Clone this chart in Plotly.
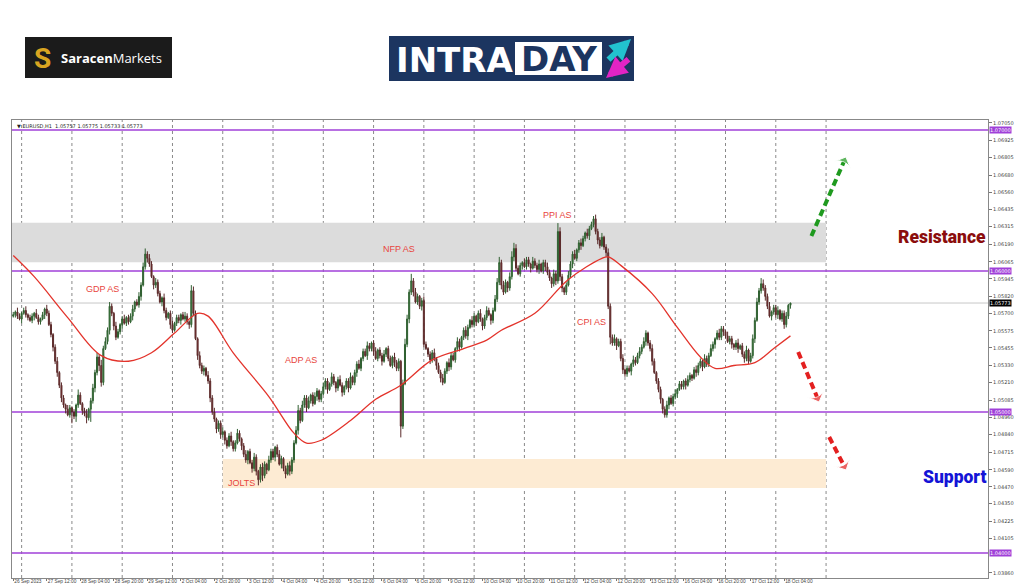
import plotly.graph_objects as go

# ---------------- data (EURUSD H1), prices in pips above 1.0000 ----------------
FIRST_OPEN = 568
CLOSE = [
    569, 571, 568, 566, 570, 572, 569, 567, 565, 568, 570, 567, 564, 566, 569, 573, 570,
    562, 555, 546,
    536, 528, 519, 510, 505,
    502, 498, 503, 500, 497, 505, 512, 506, 501, 499, 496, 502,
    508, 517, 528, 539, 533, 521, 545, 550, 558, 575, 570,
    561, 553, 557,
    562, 566, 563, 567, 564, 568,
    573, 578, 576, 582, 590,
    603, 612, 609, 605,
    596, 590, 592, 584, 578, 581, 572, 567, 570,
    562, 558, 563,
    567, 565, 569, 566, 568, 564, 562,
    586, 570,
    552, 540, 533, 529,
    531, 526, 522,
    510, 500, 495,
    488, 492, 484,
    486, 480, 476, 483, 479, 474, 478, 485, 481, 476,
    470, 466, 472, 464, 460, 468,
    458, 452, 461, 455, 463, 459,
    466, 472, 468, 475, 470, 463, 467,
    460, 456, 462, 458, 466,
    478, 487,
    501, 494, 505, 510, 503, 508, 512,
    506, 511, 515, 509, 513, 518, 522, 516, 520, 525,
    521, 517, 523, 519, 514, 518, 522,
    517, 525, 521, 528, 534,
    531, 538, 543, 540, 547, 545,
    549, 543, 538, 544, 540, 536, 541, 545,
    538, 533, 539, 535, 531, 536,
    490, 520, 548, 566, 585, 593,
    585, 578, 582, 575, 579,
    548, 545, 541, 537, 542, 538, 533, 528, 524, 521, 529, 535, 532,
    540, 537, 545, 550, 546, 553, 558, 554, 560, 565, 562,
    568, 564, 570, 566, 561, 567, 572, 569, 565,
    572, 580, 592,
    606, 590, 585, 592, 588, 596,
    610, 616, 602,
    598, 604,
    606, 603, 608, 605, 602, 607, 604,
    601, 605, 600, 606, 603, 599,
    595, 591, 598, 593,
    628, 596, 588, 585,
    590, 597, 605, 612, 609, 615, 620, 618, 623, 627, 625, 630, 633, 637,
    628, 622, 618, 624, 617, 613,
    575, 553,
    549, 552, 547, 550,
    538, 530, 527,
    531, 529, 534, 537, 535, 540, 543, 546,
    550, 556, 549, 545,
    536, 528, 522, 516, 509,
    502, 498, 505,
    510, 506, 511, 513,
    516, 520, 518, 522, 519, 523,
    526, 524, 530, 528, 533, 536,
    532, 538, 534, 540, 545,
    548, 552, 556, 553, 559, 557,
    554, 550, 552, 548, 546, 549, 545, 547,
    541, 538, 544, 536, 540,
    552,
    565, 578, 586, 591,
    588, 582,
    575, 568, 571,
    574, 569, 572, 566, 570,
    562,
    568, 575.7, 577.3,
]
WICK_UP = [
    2,1,3,2,1,2,3,1,2,2,1,3,2,1,2,1,3,2,2,1,
    2,3,1,2,2,1,3,2,1,2,1,4,2,1,2,3,1,2,3,2,
    3,2,4,2,3,2,3,2,1,3,2,1,2,3,1,2,2,3,1,2,
    3,2,3,4,2,3,2,1,3,2,2,1,3,2,1,2,3,1,2,2,
    1,2,3,2,1,4,3,2,1,3,2,2,1,3,2,2,3,1,2,2,
    3,1,2,2,3,1,2,3,2,1,2,3,1,2,2,3,2,1,2,3,
    2,1,3,2,2,1,2,3,2,1,2,2,3,2,2,3,4,2,3,2,
    2,3,1,2,3,2,1,2,3,2,2,1,3,2,1,2,3,2,1,2,
    2,3,1,2,2,3,1,2,2,3,2,1,2,3,1,2,2,3,1,2,
    2,1,3,2,2,1,3,4,3,2,5,2,3,2,1,2,3,2,1,2,
    2,3,1,2,2,3,2,1,3,2,2,1,3,2,1,2,3,2,1,3,
    2,1,2,3,1,2,3,2,1,2,3,3,4,2,3,2,1,3,4,4,
    3,2,2,1,3,2,2,1,3,2,2,3,1,2,2,3,2,1,3,2,
    6,3,2,1,2,3,2,2,3,1,2,3,2,1,3,2,2,2,3,2,
    2,3,1,2,3,2,2,3,1,2,2,3,1,2,2,1,3,2,2,3,
    2,3,2,1,2,3,2,1,2,2,1,2,3,1,2,2,3,1,2,2,
    1,2,3,2,1,2,3,2,2,1,3,2,2,3,2,1,2,3,2,2,
    1,3,2,2,1,2,3,1,2,2,3,1,2,3,2,3,2,4,3,2,
    2,3,1,2,2,3,1,2,2,3,1,0.2,
]
WICK_DN = [
    1,2,2,1,3,1,2,2,1,2,3,1,2,2,1,3,2,1,2,3,
    2,3,2,3,2,3,1,2,8,2,4,2,1,3,2,4,2,9,2,3,
    2,4,3,2,1,2,3,2,3,2,1,2,3,1,2,2,1,3,2,1,
    2,3,1,2,3,2,1,3,2,2,1,3,2,2,1,3,2,1,2,2,
    3,1,2,2,3,2,2,1,3,2,2,3,1,2,3,2,2,3,2,3,
    2,3,2,1,3,2,2,1,2,3,2,2,3,1,3,2,3,4,2,4,
    2,3,1,2,2,3,2,1,3,2,3,1,3,2,2,1,3,2,1,2,
    3,1,2,2,1,3,2,2,1,2,3,1,2,2,3,2,1,3,2,2,
    3,1,2,2,3,1,2,2,1,3,2,2,3,1,2,2,3,1,2,2,
    1,2,3,2,2,8,2,1,2,3,2,3,1,2,2,3,2,1,2,3,
    2,2,3,1,3,2,1,2,3,2,1,2,2,3,1,2,2,3,1,2,
    2,3,1,2,3,2,2,1,3,2,1,2,2,3,2,1,3,2,2,3,
    2,1,2,3,1,2,2,3,1,2,2,3,1,2,3,2,2,3,2,3,
    2,3,3,2,2,1,2,3,1,2,2,3,1,2,2,3,1,2,2,3,
    2,1,2,3,2,5,2,2,3,1,2,3,2,2,1,3,2,2,1,2,
    2,1,3,2,2,3,1,2,2,3,3,2,2,3,1,2,2,3,1,2,
    2,3,1,2,2,1,3,2,2,3,1,2,2,1,2,3,1,2,2,3,
    2,1,2,3,2,2,3,1,2,3,2,2,1,2,3,1,2,2,2,3,
    2,1,3,2,2,3,1,2,3,2,2,2.4,
]

# moving average (red line), bar index -> pips
MA_BAR = [0, 10, 26, 42, 55, 66, 77, 88, 93, 105, 122, 134, 140, 147, 161, 173, 185,
          200, 215, 226, 233, 249, 265, 281, 284, 290, 305, 317, 328, 335, 344, 354, 363, 371]
MA_PIPS = [611, 596, 567, 540, 536, 542, 556, 570, 568, 542, 511, 485, 478, 480, 494, 509, 519,
           537, 545, 551, 558, 570, 594, 609, 610, 604, 584, 560, 539, 531, 533, 535, 545, 554]

X_TICK_STEP = 16
X_TICK_LABELS = ["26 Sep 2023", "27 Sep 12:00", "28 Sep 04:00", "28 Sep 20:00", "29 Sep 12:00",
                 "2 Oct 04:00", "2 Oct 20:00", "3 Oct 12:00", "4 Oct 04:00", "4 Oct 20:00",
                 "5 Oct 12:00", "6 Oct 04:00", "6 Oct 20:00", "9 Oct 12:00", "10 Oct 04:00",
                 "10 Oct 20:00", "11 Oct 12:00", "12 Oct 04:00", "12 Oct 20:00", "13 Oct 12:00",
                 "16 Oct 04:00", "16 Oct 20:00", "17 Oct 12:00", "18 Oct 04:00"]
DAY_GRID_START, DAY_GRID_STEP, DAY_GRID_END = 4, 24, 388

Y_TICKS = [1.07050, 1.06925, 1.06805, 1.06680, 1.06560, 1.06435, 1.06315, 1.06190, 1.06065,
           1.05945, 1.05820, 1.05700, 1.05575, 1.05455, 1.05330, 1.05210, 1.05085, 1.04960,
           1.04840, 1.04715, 1.04590, 1.04470, 1.04350, 1.04225, 1.04105, 1.03860]
LEVELS = [1.07000, 1.06000, 1.05000, 1.04000]
LAST_PRICE = 1.05773
RES_ZONE = (1.06062, 1.06343)
SUP_ZONE = (1.04461, 1.04667)
SUP_ZONE_START = 100
ZONE_END = 388

EVENTS = [("GDP AS", 42.5, 1.0587), ("NFP AS", 184, 1.06156), ("PPI AS", 260, 1.0640),
          ("ADP AS", 137.5, 1.0537), ("CPI AS", 276, 1.0564), ("JOLTS", 109, 1.04496)]

# dashed scenario arrows: (colour, bar0, price0, bar1, price1)
ARROWS = [("#1f9a1f", 381, 1.06248, 397.5, 1.06809),
          ("#e32020", 374.7, 1.05426, 384.7, 1.05071),
          ("#e32020", 389.5, 1.04823, 397.6, 1.04589)]

# ---------------- build OHLC ----------------
assert len(CLOSE) == len(WICK_UP) == len(WICK_DN), (len(CLOSE), len(WICK_UP), len(WICK_DN))
N = len(CLOSE)
opens = [FIRST_OPEN] + CLOSE[:-1]
highs = [max(o, c) + w for o, c, w in zip(opens, CLOSE, WICK_UP)]
lows = [min(o, c) - w for o, c, w in zip(opens, CLOSE, WICK_DN)]
to_price = lambda v: 1 + v / 10000.0
bars = list(range(N))

fig = go.Figure()
fig.add_trace(go.Candlestick(
    x=bars,
    open=[to_price(v) for v in opens], high=[to_price(v) for v in highs],
    low=[to_price(v) for v in lows], close=[to_price(v) for v in CLOSE],
    increasing=dict(line=dict(color="#2f5f30", width=1), fillcolor="#3f8a40"),
    decreasing=dict(line=dict(color="#5a2a2a", width=1), fillcolor="#8a3030"),
    whiskerwidth=0, hoverinfo="skip"))
fig.add_trace(go.Scatter(x=MA_BAR, y=[to_price(v) for v in MA_PIPS], mode="lines",
                         line=dict(color="#e3332b", width=1.3, shape="spline"), hoverinfo="skip"))
for col, x0, y0, x1, y1 in ARROWS:
    fig.add_trace(go.Scatter(x=[x0, x1], y=[y0, y1], mode="lines+markers",
                             line=dict(color=col, width=4, dash="7px,4px"),
                             marker=dict(symbol="arrow-wide", size=[0, 13], color=col, angleref="previous"),
                             hoverinfo="skip"))

# ---------------- layout geometry (pixel helpers for decorations) ----------------
PL, PR, PT, PB = 12, 988, 120, 578
def pxx(x):
    return (x - PL) / (PR - PL)
def pxy(y):
    return (PB - y) / (PB - PT)

shapes = []
shapes.append(dict(type="rect", xref="x", yref="y", x0=-0.6, x1=ZONE_END, y0=RES_ZONE[0], y1=RES_ZONE[1],
                   fillcolor="#dcdcdc", line=dict(width=0), layer="below"))
shapes.append(dict(type="rect", xref="x", yref="y", x0=SUP_ZONE_START, x1=ZONE_END, y0=SUP_ZONE[0], y1=SUP_ZONE[1],
                   fillcolor="#fdebd3", line=dict(width=0), layer="below"))
for g in range(DAY_GRID_START, DAY_GRID_END + 1, DAY_GRID_STEP):
    shapes.append(dict(type="line", xref="x", yref="paper", x0=g, x1=g, y0=0, y1=1,
                       line=dict(color="#8a8a8a", width=1, dash="dot"), layer="below"))
shapes.append(dict(type="line", xref="paper", yref="y", x0=0, x1=1, y0=LAST_PRICE, y1=LAST_PRICE,
                   line=dict(color="#c8c8c8", width=1), layer="below"))
for lv in LEVELS:
    shapes.append(dict(type="line", xref="paper", yref="y", x0=0, x1=1, y0=lv, y1=lv,
                       line=dict(color="#a040d8", width=1.6), layer="below"))

# logos
shapes.append(dict(type="rect", xref="paper", yref="paper", x0=pxx(25), x1=pxx(172), y0=pxy(78), y1=pxy(37),
                   fillcolor="#1b1b1b", line=dict(width=0), layer="above"))
shapes.append(dict(type="rect", xref="paper", yref="paper", x0=pxx(389), x1=pxx(634), y0=pxy(81), y1=pxy(36),
                   fillcolor="#1c3560", line=dict(width=0), layer="above"))
shapes.append(dict(type="rect", xref="paper", yref="paper", x0=pxx(515), x1=pxx(602), y0=pxy(75), y1=pxy(42),
                   fillcolor="#ffffff", line=dict(width=0), layer="above"))

ann = []
def paper_text(text, x, y, size, color, family="Liberation Sans", weight="normal", xanchor="center"):
    ann.append(dict(text=text, xref="paper", yref="paper", x=pxx(x), y=pxy(y), showarrow=False,
                    xanchor=xanchor, yanchor="middle",
                    font=dict(size=size, color=color, family=family, weight=weight)))

paper_text("<b>S</b>", 42, 58, 28, "#d9a521", family="Roboto", xanchor="center")
paper_text("<b>Saracen</b>Markets", 111, 58, 13, "#ffffff", family="Open Sans")
paper_text("INTRA", 454, 60, 34, "#ffffff", family="DejaVu Sans", weight="bold")
paper_text("DAY", 559, 59, 34, "#1c3560", family="DejaVu Sans", weight="bold")
ann.append(dict(text="", xref="paper", yref="paper", x=pxx(631), y=pxy(39), ax=-24, ay=22,
                showarrow=True, arrowhead=2, arrowsize=0.7, arrowwidth=6, arrowcolor="#22c3cf"))
ann.append(dict(text="", xref="paper", yref="paper", x=pxx(606), y=pxy(78), ax=24, ay=-20,
                showarrow=True, arrowhead=2, arrowsize=0.7, arrowwidth=6, arrowcolor="#e224c4"))
paper_text("Resistance", 942, 237, 17.5, "#8b0d0d", family="Roboto", weight=900)
paper_text("Support", 954, 477, 17.5, "#1414d6", family="Roboto", weight=900)

ann.append(dict(text="▼ EURUSD,H1  1.05757 1.05775 1.05733 1.05773", xref="paper", yref="paper",
                x=0.003, y=0.998, xanchor="left", yanchor="top", showarrow=False,
                font=dict(size=5, color="#222", family="DejaVu Sans")))
for name, bx, py in EVENTS:
    ann.append(dict(text=name, xref="x", yref="y", x=bx, y=py, showarrow=False,
                    font=dict(size=9, color="#e8453c", family="Liberation Sans")))
for lv in LEVELS:
    ann.append(dict(text=f"{lv:.5f}", xref="paper", yref="y", x=1, y=lv, xanchor="left", xshift=1,
                    showarrow=False, bgcolor="#a040d8", borderpad=0,
                    font=dict(size=5, color="#ffffff", family="DejaVu Sans")))
ann.append(dict(text=f"{LAST_PRICE:.5f}", xref="paper", yref="y", x=1, y=LAST_PRICE, xanchor="left", xshift=1,
                showarrow=False, bgcolor="#000000", borderpad=0,
                font=dict(size=5, color="#ffffff", family="DejaVu Sans")))

fig.update_layout(
    width=1024, height=587,
    margin=dict(l=PL, r=1024 - PR, t=PT, b=587 - PB, autoexpand=False),
    paper_bgcolor="white", plot_bgcolor="white", showlegend=False,
    shapes=shapes, annotations=ann,
    xaxis=dict(range=[-0.6, 465.3], rangeslider=dict(visible=False),
               tickvals=[i * X_TICK_STEP for i in range(len(X_TICK_LABELS))], ticktext=X_TICK_LABELS,
               tickangle=0, automargin=False,
               ticklabelposition="outside right", ticks="outside", ticklen=2, tickcolor="#777",
               ticklabelstandoff=-2,
               tickfont=dict(size=4.8, color="#444", family="Liberation Sans"),
               showgrid=False, zeroline=False, showline=True, linecolor="#888", linewidth=1, mirror=True),
    yaxis=dict(side="right", range=[1.03823, 1.07071], tickvals=Y_TICKS, automargin=False,
               ticktext=[f"{v:.5f}" for v in Y_TICKS], ticks="outside", ticklen=3, tickcolor="#777",
               tickfont=dict(size=5, color="#444", family="DejaVu Sans"),
               showgrid=False, zeroline=False, showline=True, linecolor="#888", linewidth=1, mirror=True),
)
fig.write_html("out.html", config={"displayModeBar": False},
               post_script="document.body.style.margin='0px';document.body.style.overflow='hidden';")
